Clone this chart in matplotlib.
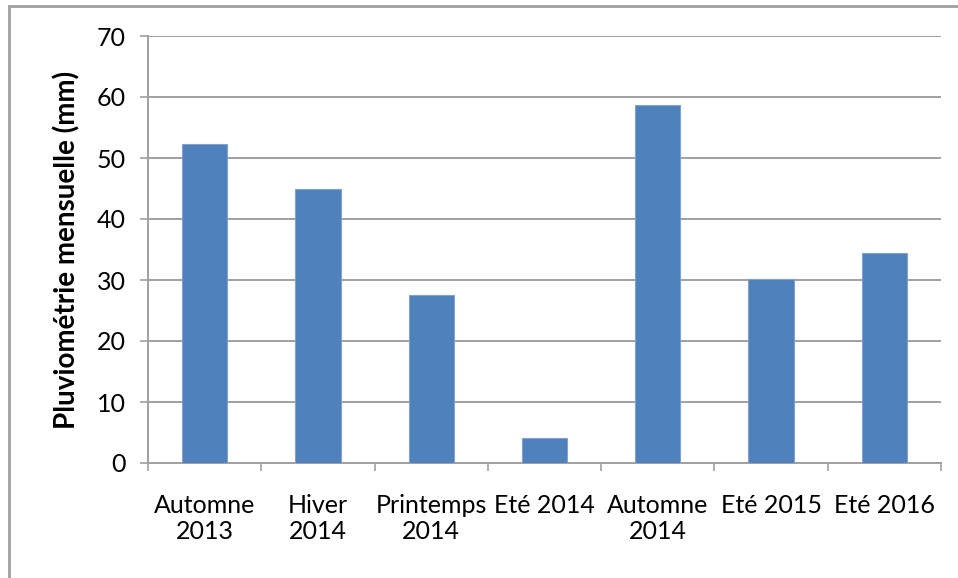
import matplotlib
matplotlib.use("Agg")
import matplotlib.pyplot as plt
from matplotlib.patches import Rectangle

# Seasonal monthly rainfall (mm)
categories = ["Automne\n2013", "Hiver\n2014", "Printemps\n2014", "Eté 2014",
              "Automne\n2014", "Eté 2015", "Eté 2016"]
values = [52.3, 45.0, 27.6, 4.1, 58.7, 30.2, 34.5]
y_ticks = [0, 10, 20, 30, 40, 50, 60, 70]

W, H = 958, 578
grid_col = "#A0A0A0"
bar_col = "#4F81BD"

plt.rcParams["font.family"] = ["Lato", "DejaVu Sans"]

fig = plt.figure(figsize=(W / 100, H / 100), dpi=100)
fig.patch.set_facecolor("white")
ax = fig.add_axes([148 / W, 1 - 463 / H, (941 - 148) / W, (463 - 36) / H])

x = list(range(len(categories)))
ax.bar(x, values, width=0.4, color=bar_col, edgecolor="#7FA2CE",
       linewidth=0.8, zorder=3)

ax.set_xlim(-0.5, len(categories) - 0.5)
ax.set_ylim(0, 70)
ax.set_yticks(y_ticks)
ax.set_yticklabels([str(v) for v in y_ticks])
ax.yaxis.grid(True, color=grid_col, linewidth=1.4, zorder=0)
ax.set_axisbelow(True)

# x ticks sit on category boundaries, labels centred on the bars
ax.set_xticks([i - 0.5 for i in range(len(categories) + 1)])
ax.set_xticklabels([])
ax.set_xticks(x, minor=True)
ax.set_xticklabels(categories, minor=True, fontsize=18)
ax.tick_params(axis="x", which="minor", length=0, pad=22)
ax.tick_params(axis="x", which="major", length=6, width=1.2, color=grid_col,
               direction="out")
ax.tick_params(axis="y", length=6, width=1.2, color=grid_col, labelsize=18,
               pad=10)

for s in ["top", "right"]:
    ax.spines[s].set_visible(False)
for s in ["left", "bottom"]:
    ax.spines[s].set_color(grid_col)
    ax.spines[s].set_linewidth(1.4)

ax.set_ylabel("Pluviométrie mensuelle (mm)", fontsize=20, fontweight="bold",
              labelpad=12)

# outer chart frame (cropped on the right and bottom)
fig.patches.append(Rectangle((9 / W, -0.1), 1.5, 1.1 - 6 / H,
                             transform=fig.transFigure, fill=False,
                             edgecolor=grid_col, linewidth=2))

fig.savefig("out.png", dpi=100, facecolor="white")
